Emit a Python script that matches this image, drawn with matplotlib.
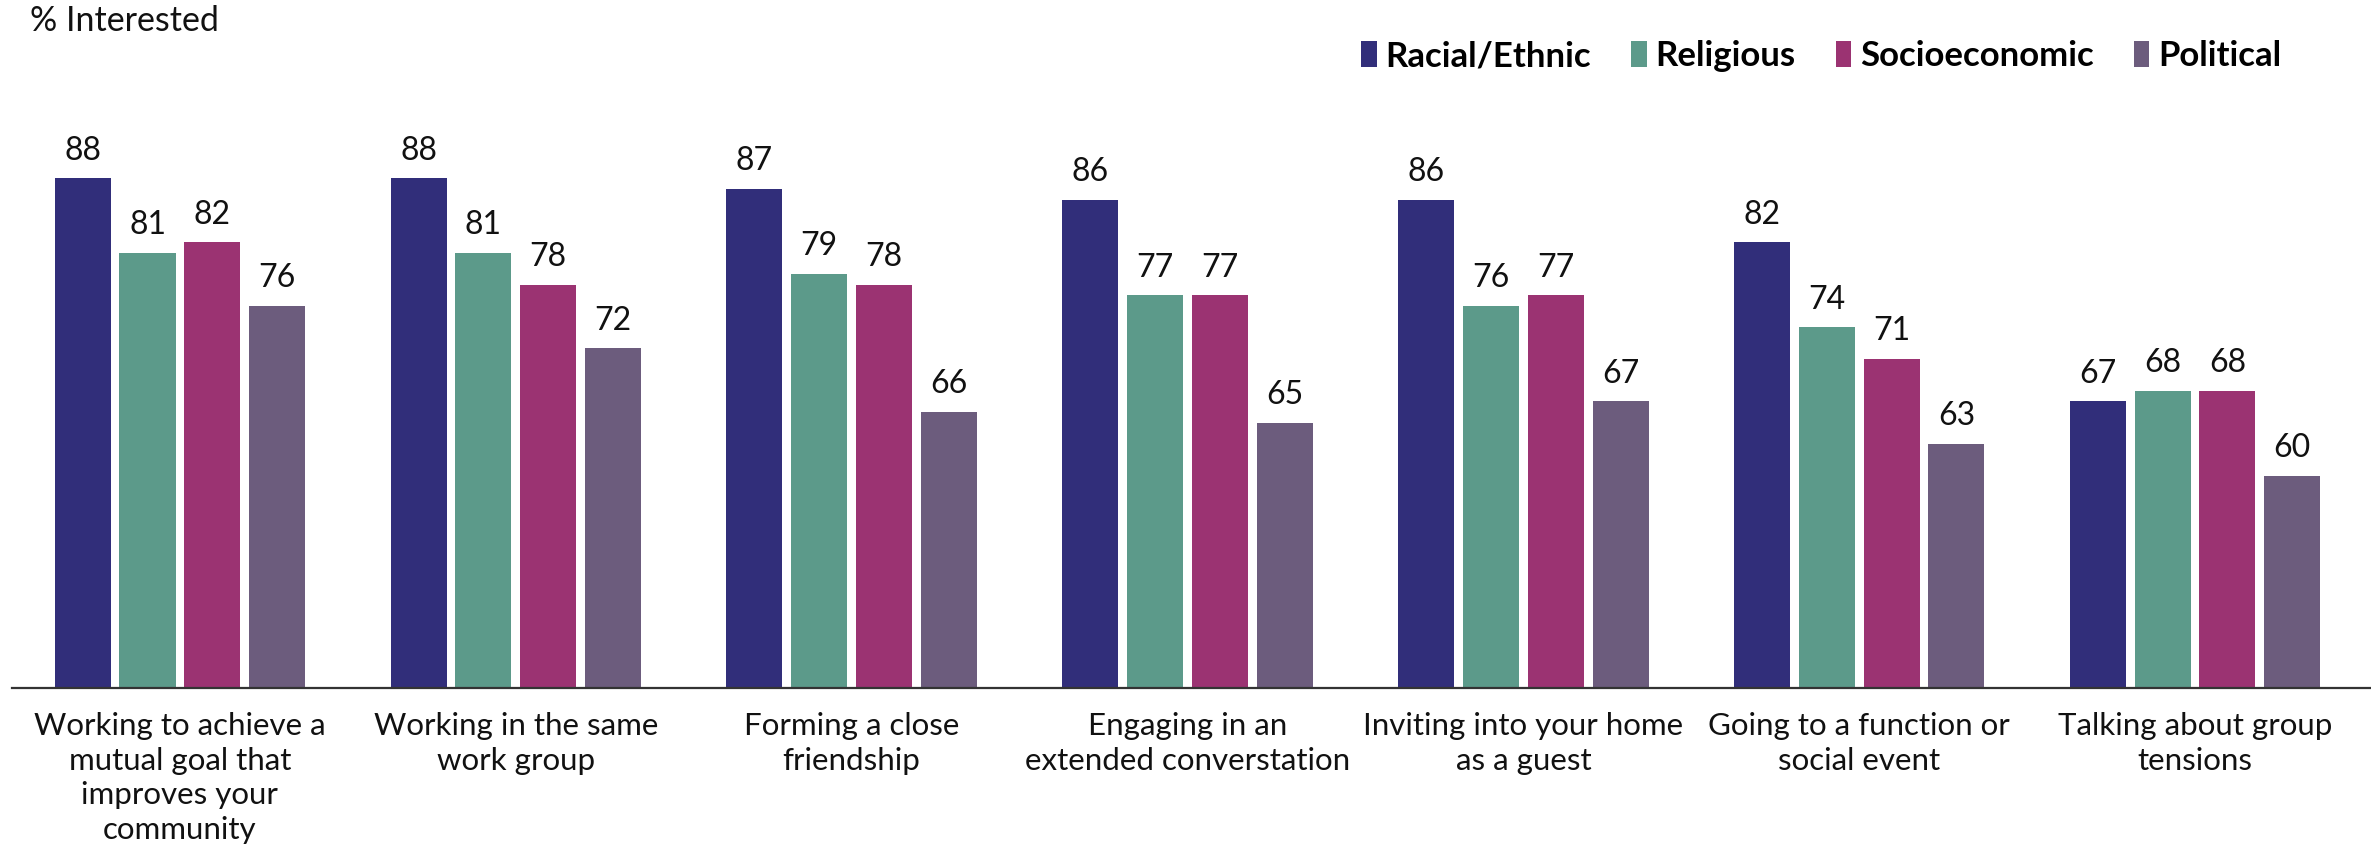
import matplotlib
matplotlib.use("Agg")
import matplotlib.pyplot as plt
from matplotlib.patches import Patch
import numpy as np

categories = [
    "Working to achieve a\nmutual goal that\nimproves your\ncommunity",
    "Working in the same\nwork group",
    "Forming a close\nfriendship",
    "Engaging in an\nextended converstation",
    "Inviting into your home\nas a guest",
    "Going to a function or\nsocial event",
    "Talking about group\ntensions",
]
series_names = ["Racial/Ethnic", "Religious", "Socioeconomic", "Political"]
racial = [88, 88, 87, 86, 86, 82, 67]
religious = [81, 81, 79, 77, 76, 74, 68]
socioeconomic = [82, 78, 78, 77, 77, 71, 68]
political = [76, 72, 66, 65, 67, 63, 60]
colors = ["#312E7A", "#5C9A8A", "#9B3372", "#6C5C7D"]

series = [racial, religious, socioeconomic, political]

FONT = ["Lato", "DejaVu Sans"]
plt.rcParams['font.family'] = FONT

W, H = 2371, 855
fig = plt.figure(figsize=(W / 100, H / 100), dpi=100)
ax = fig.add_axes([12 / W, 167 / H, (W - 12) / W, (H - 167) / H])

x = np.arange(len(categories))
bw = 0.167
pitch = 0.193
base = 40
for i, (vals, c) in enumerate(zip(series, colors)):
    pos = x + (i - 1.5) * pitch
    heights = [v - base for v in vals]
    ax.bar(pos, heights, bw, bottom=base, color=c, edgecolor="none")
    for p, v in zip(pos, vals):
        ax.annotate(f"{v}", (p, v), xytext=(0, 9), textcoords="offset points",
                    ha="center", va="bottom", fontsize=23, color="#111111")

ax.set_xlim(-0.5, 6.524)
ax.set_ylim(base, 104.8)
ax.set_yticks([])
ax.set_xticks(x)
ax.set_xticklabels(categories, fontsize=22.5, color="#111111", linespacing=1.3)
ax.tick_params(axis="x", length=0, pad=17)
for s in ["top", "right", "left"]:
    ax.spines[s].set_visible(False)
ax.spines["bottom"].set_linewidth(1.6)
ax.spines["bottom"].set_color("#333333")

fig.text(30 / W, 1 - 21 / H, "% Interested", fontsize=24.5, ha="left", va="center", color="#111111")

handles = [Patch(facecolor=c, edgecolor="none") for c in colors]
fig.legend(handles, series_names, loc="center right", bbox_to_anchor=(2281 / W, 1 - 56 / H),
           ncol=4, frameon=False, prop={"family": FONT, "weight": "bold", "size": 25},
           handlelength=0.45, handleheight=0.8, handletextpad=0.25, columnspacing=1.15,
           borderaxespad=0, borderpad=0)

fig.savefig("out.png", dpi=100)
